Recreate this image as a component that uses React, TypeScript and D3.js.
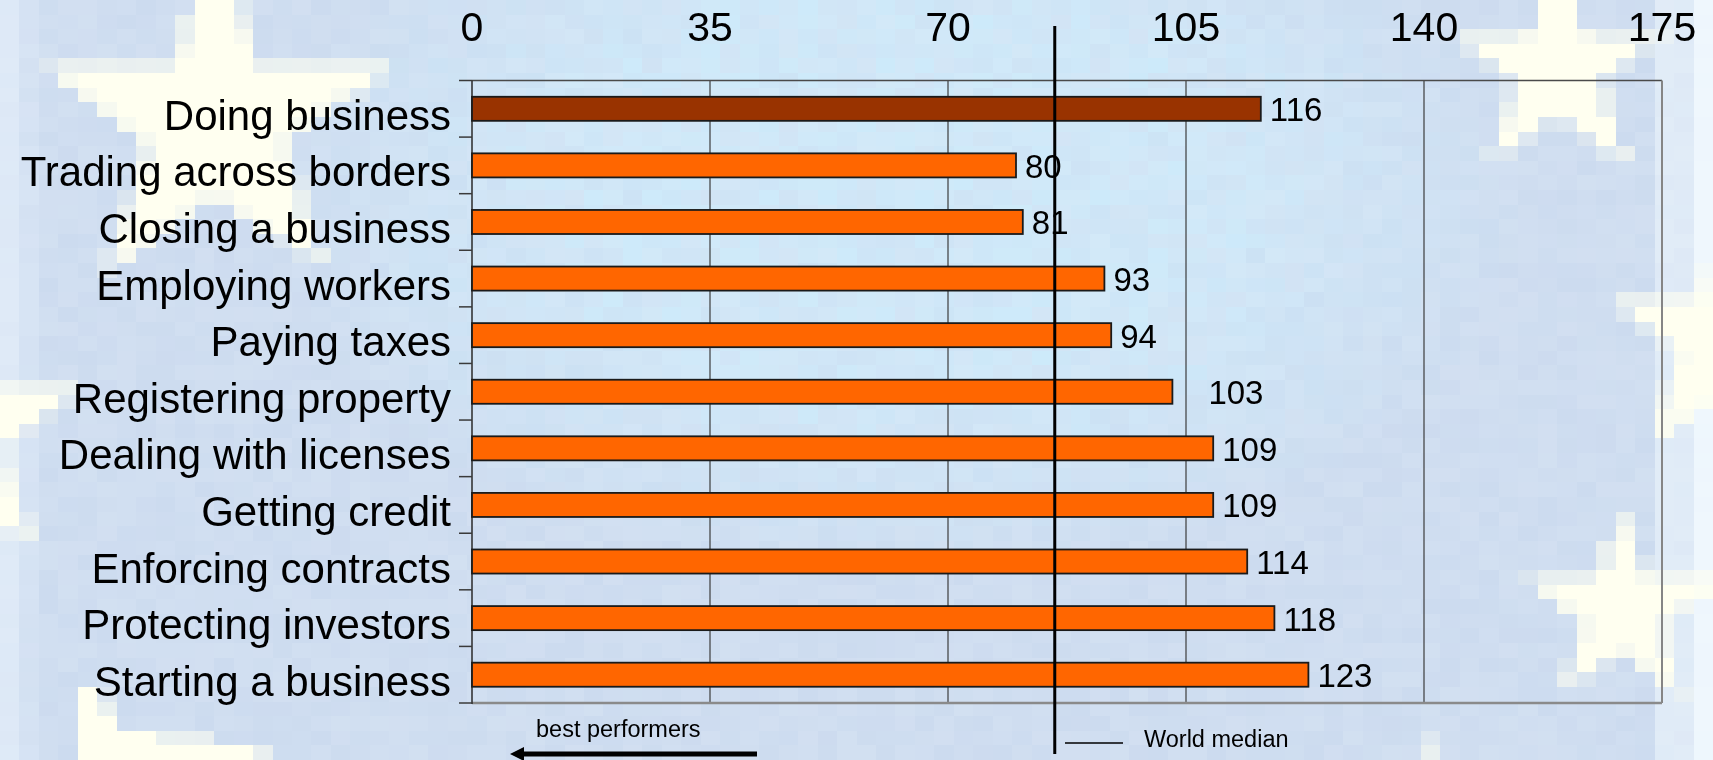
import React, { useEffect, useMemo } from "react";
import * as d3 from "d3";

// ---- Data ----
const categories = [
  "Doing business",
  "Trading across borders",
  "Closing a business",
  "Employing workers",
  "Paying taxes",
  "Registering property",
  "Dealing with licenses",
  "Getting credit",
  "Enforcing contracts",
  "Protecting investors",
  "Starting a business",
];
const rankings = [116, 80, 81, 93, 94, 103, 109, 109, 114, 118, 123];
const xTicks = [0, 35, 70, 105, 140, 175];
const worldMedian = 85.7;
const highlightCategory = "Doing business";
const legendLabel = "World median";
const arrowLabel = "best performers";

// ---- Layout / style ----
const W = 1713;
const H = 760;
const FONT = "'Liberation Sans', Arial, Helvetica, sans-serif";
const PLOT = { left: 472, right: 1662, top: 80.5, bottom: 703 };

// background stars (decoration of the slide backdrop)
const stars = [
  { cx: 216, cy: 122, r: 185 },
  { cx: 1558, cy: 70, r: 115 },
  { cx: 1728, cy: 337, r: 130 },
  { cx: 1622, cy: 612, r: 103 },
  { cx: -50, cy: 430, r: 140 },
  { cx: 1428, cy: 853, r: 120 },
];
const extraShapes: [number, number][][] = [
  [
    [79, 688],
    [100, 688],
    [118, 732],
    [140, 733],
    [258, 747],
    [275, 775],
    [79, 775],
  ],
];

function starPolygon(cx: number, cy: number, r: number): [number, number][] {
  const pts: [number, number][] = [];
  for (let k = 0; k < 10; k++) {
    const a = -Math.PI / 2 + (k * Math.PI) / 5;
    const rr = k % 2 === 0 ? r : r * 0.382;
    pts.push([cx + rr * Math.cos(a), cy + rr * Math.sin(a)]);
  }
  return pts;
}

function hash(i: number, j: number) {
  const s = Math.sin(i * 12.9898 + j * 78.233) * 43758.5453;
  return s - Math.floor(s);
}

function Mosaic() {
  const cells = useMemo(() => {
    const cols = 88;
    const rows = 52;
    const cw = W / cols;
    const ch = H / rows;
    const polys = stars.map((s) => starPolygon(s.cx, s.cy, s.r)).concat(extraShapes);
    const blue = "#CCDBEF";
    const cyan = "#CDEAFA";
    const pale = "#FFFFF0";
    const out: { x: number; y: number; w: number; h: number; fill: string }[] = [];
    for (let j = 0; j < rows; j++) {
      for (let i = 0; i < cols; i++) {
        const x0 = i * cw;
        const y0 = j * ch;
        const cx = x0 + cw / 2;
        const cy = y0 + ch / 2;
        let cov = 0;
        const sub = [0.25, 0.75];
        for (const sx of sub)
          for (const sy of sub) {
            const px = x0 + sx * cw;
            const py = y0 + sy * ch;
            if (polys.some((p) => d3.polygonContains(p, [px, py]))) cov += 0.25;
          }
        const dx = (cx - 900) / 560;
        const dy = (cy - 200) / 340;
        let t = Math.max(0, Math.min(1, 1.25 - (dx * dx + dy * dy)));
        const h = hash(i, j);
        t = Math.max(0, Math.min(1, t * (0.55 + 0.6 * h)));
        let c = d3.interpolateRgb(blue, cyan)(t);
        const h2 = hash(j + 31, i + 7);
        c = d3.interpolateRgb(c, "#DCE7F5")(h2 * 0.4);
        if (cx > 1662) {
          const e = cx > 1700 ? 0.85 : 0.45;
          c = d3.interpolateRgb(c, "#F4FBFF")(e);
        }
        if (cx < 22) c = d3.interpolateRgb(c, "#EAF3FC")(0.55);
        else if (cx < 42) c = d3.interpolateRgb(c, "#E4EEFA")(0.3);
        if (cov > 0) c = d3.interpolateRgb(c, pale)(Math.min(1, cov * 1.1));
        out.push({ x: x0, y: y0, w: cw + 0.6, h: ch + 0.6, fill: c });
      }
    }
    return out;
  }, []);
  return (
    <g shapeRendering="crispEdges">
      {cells.map((c, k) => (
        <rect key={k} x={c.x} y={c.y} width={c.w} height={c.h} fill={c.fill} />
      ))}
    </g>
  );
}

export default function App() {
  useEffect(() => {
    document.body.style.margin = "0";
    document.body.style.overflow = "hidden";
  }, []);

  const x = d3.scaleLinear().domain([0, 175]).range([PLOT.left, PLOT.right]);
  const y = d3
    .scaleBand<string>()
    .domain(categories)
    .range([PLOT.top, PLOT.bottom])
    .paddingInner(0)
    .paddingOuter(0);
  const bw = y.bandwidth();
  const barH = bw * 0.425;
  const labelNudge: Record<string, number> = { "Registering property": 27 };
  const boundaries = d3.range(categories.length + 1).map((i) => PLOT.top + i * y.step());

  return (
    <svg
      width={W}
      height={H}
      style={{ position: "fixed", left: 0, top: 0, display: "block" }}
      fontFamily={FONT}
    >
      <Mosaic />

      {/* gridlines */}
      {xTicks
        .filter((t) => t > 0 && t < 175)
        .map((t) => (
          <line
            key={"g" + t}
            x1={x(t)}
            x2={x(t)}
            y1={PLOT.top}
            y2={PLOT.bottom}
            stroke="#3c3c3c"
            strokeWidth={1.2}
          />
        ))}
      {/* frame */}
      <line x1={PLOT.left} x2={PLOT.right} y1={PLOT.top} y2={PLOT.top} stroke="#4a4a4a" strokeWidth={1.5} />
      <line x1={PLOT.right} x2={PLOT.right} y1={PLOT.top} y2={PLOT.bottom} stroke="#858585" strokeWidth={2} />
      <line x1={PLOT.left} x2={PLOT.right} y1={PLOT.bottom} y2={PLOT.bottom} stroke="#8a8a8a" strokeWidth={2.5} />
      <line x1={PLOT.left} x2={PLOT.left} y1={PLOT.top} y2={PLOT.bottom + 1} stroke="#2a2a2a" strokeWidth={1.5} />
      {boundaries.map((b, i) => (
        <line key={"t" + i} x1={PLOT.left - 13} x2={PLOT.left} y1={b} y2={b} stroke="#3a3a3a" strokeWidth={1.5} />
      ))}

      {/* bars */}
      {categories.map((c, i) => {
        const yc = (y(c) as number) + bw / 2;
        return (
          <rect
            key={"b" + c}
            x={x(0)}
            y={yc - barH / 2}
            width={x(rankings[i]) - x(0)}
            height={barH}
            fill={c === highlightCategory ? "#993300" : "#FF6600"}
            stroke="#1a1a1a"
            strokeWidth={1.8}
          />
        );
      })}

      {/* value labels */}
      {categories.map((c, i) => {
        const yc = (y(c) as number) + bw / 2;
        return (
          <text
            key={"v" + c}
            x={x(rankings[i]) + 9 + (labelNudge[c] || 0)}
            y={yc + 12.5}
            fontSize={33}
            fill="#000"
          >
            {rankings[i]}
          </text>
        );
      })}

      {/* category labels */}
      {categories.map((c) => {
        const yc = (y(c) as number) + bw / 2;
        return (
          <text key={"c" + c} x={451} y={yc + 21} fontSize={42} textAnchor="end" fill="#000">
            {c}
          </text>
        );
      })}

      {/* top tick labels */}
      {xTicks.map((t) => (
        <text key={"x" + t} x={x(t)} y={41} fontSize={41} textAnchor="middle" fill="#000">
          {t}
        </text>
      ))}

      {/* world median */}
      <line x1={x(worldMedian)} x2={x(worldMedian)} y1={26} y2={754} stroke="#000" strokeWidth={3} />
      <line x1={1065} x2={1123} y1={743} y2={743} stroke="#000" strokeWidth={1.5} />
      <text x={1144} y={747} fontSize={23.5} fill="#000">
        {legendLabel}
      </text>

      {/* best performers arrow */}
      <text x={536} y={737} fontSize={23.5} fill="#000">
        {arrowLabel}
      </text>
      <line x1={757} x2={520} y1={754} y2={754} stroke="#000" strokeWidth={5} />
      <polygon points="510,754 524,747 524,761" fill="#000" />
    </svg>
  );
}
